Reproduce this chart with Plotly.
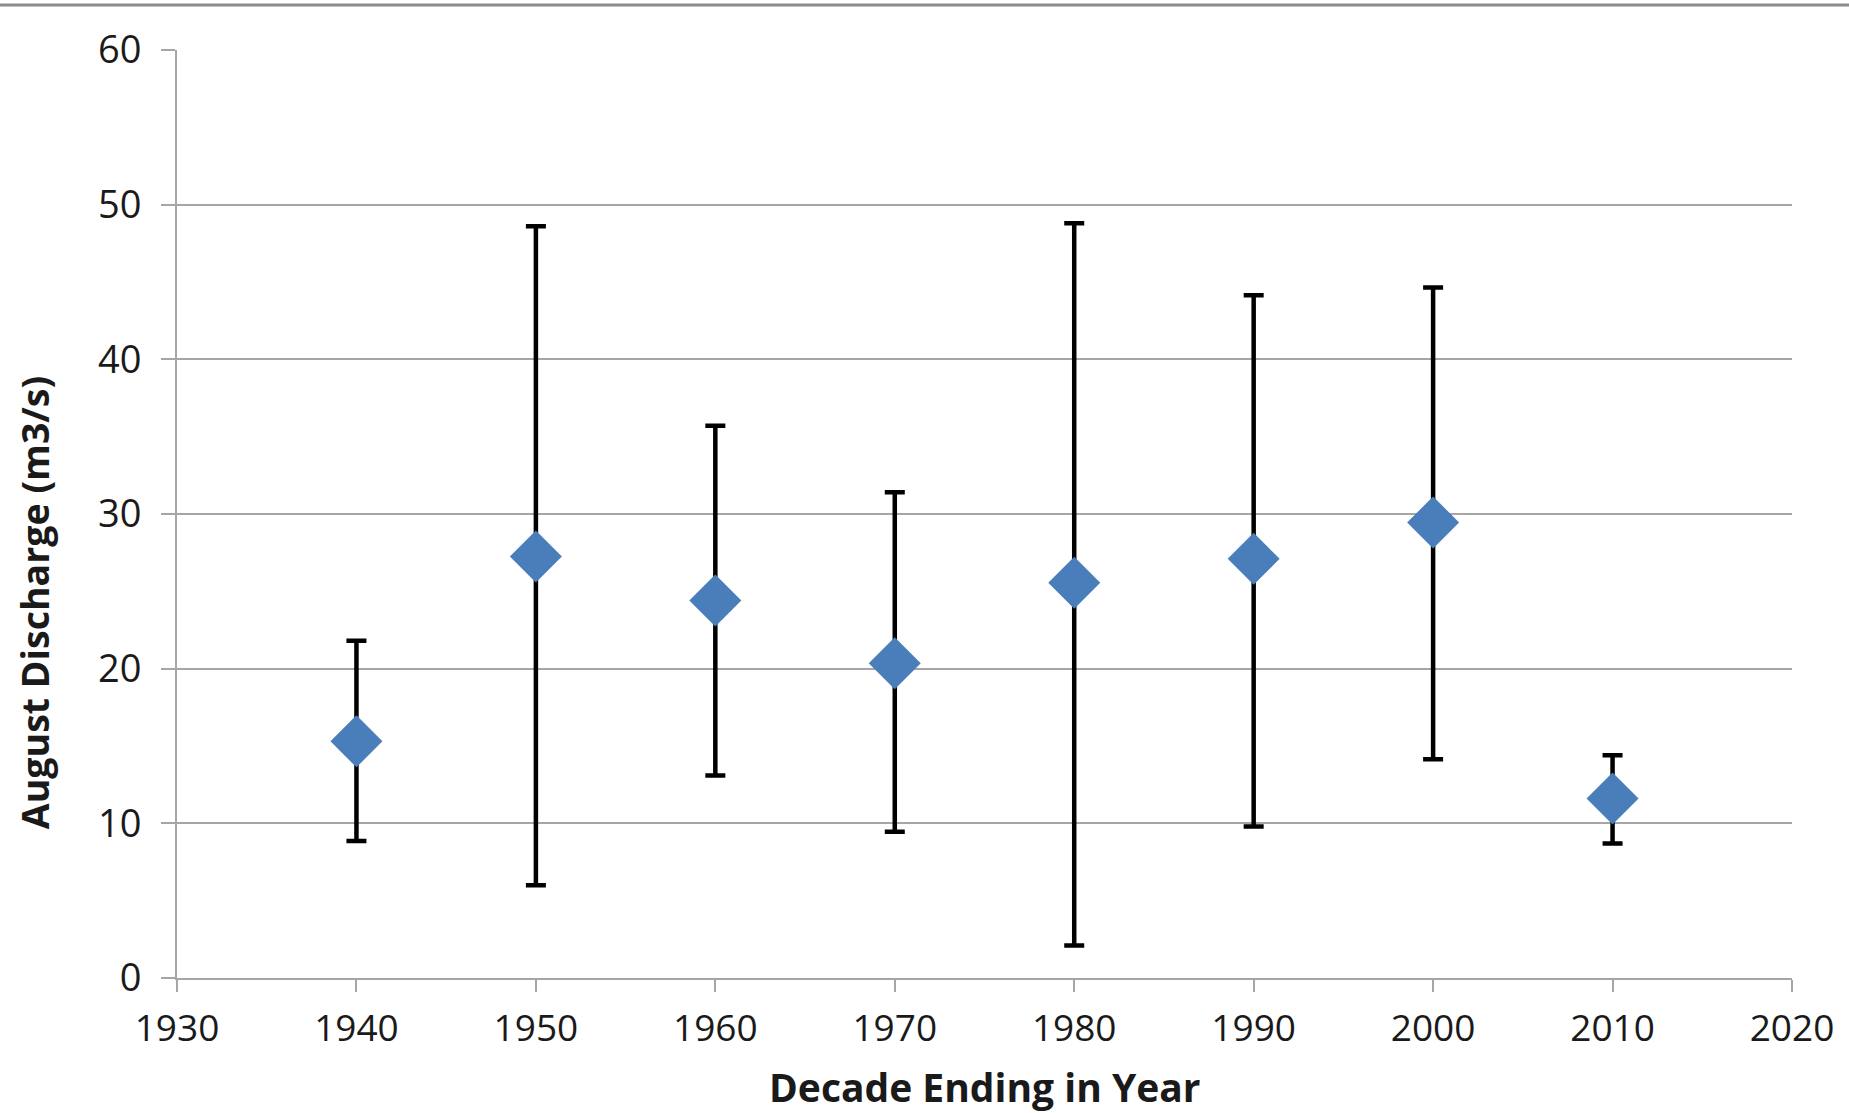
import plotly.graph_objects as go

decades = [1940, 1950, 1960, 1970, 1980, 1990, 2000, 2010]
mean_discharge = [15.3, 27.25, 24.4, 20.35, 25.55, 27.1, 29.45, 11.6]
max_discharge = [21.8, 48.6, 35.7, 31.4, 48.8, 44.15, 44.65, 14.4]
min_discharge = [8.85, 6.0, 13.1, 9.45, 2.1, 9.8, 14.15, 8.7]
x_ticks = [1930, 1940, 1950, 1960, 1970, 1980, 1990, 2000, 2010, 2020]
y_ticks = [0, 10, 20, 30, 40, 50, 60]

err_plus = [hi - m for hi, m in zip(max_discharge, mean_discharge)]
err_minus = [m - lo for lo, m in zip(min_discharge, mean_discharge)]

FONT = "Open Sans"
TXT = "#1a1a1a"

fig = go.Figure()
fig.add_trace(go.Scatter(
    x=decades, y=mean_discharge, mode="markers",
    marker=dict(symbol="diamond", size=40, color="#4a7ebb", line=dict(width=0)),
    error_y=dict(type="data", symmetric=False, array=err_plus, arrayminus=err_minus,
                 color="black", thickness=4.5, width=10),
    showlegend=False,
))

fig.update_layout(
    width=1849, height=1113,
    margin=dict(l=177, r=57, t=50, b=135),
    paper_bgcolor="white", plot_bgcolor="white",
    font=dict(family=FONT, size=36, color=TXT),
    xaxis=dict(
        range=[1930, 2020], tickmode="array", tickvals=x_ticks,
        showgrid=False, zeroline=False, showline=True, linecolor="#a6a6a6", linewidth=2,
        ticks="outside", ticklen=12, tickcolor="#a6a6a6", tickwidth=2,
        tickfont=dict(family=FONT, size=37, color=TXT),
        ticklabelstandoff=5,
    ),
    yaxis=dict(
        range=[0, 60], tickmode="array", tickvals=y_ticks,
        showgrid=True, gridcolor="#a6a6a6", gridwidth=2, zeroline=False,
        showline=True, linecolor="#a6a6a6", linewidth=2,
        ticks="outside", ticklen=14, tickcolor="#a6a6a6", tickwidth=2,
        tickfont=dict(family=FONT, size=38, color=TXT),
        ticklabelstandoff=12,
    ),
    annotations=[
        dict(text="<b>Decade Ending in Year</b>", xref="paper", yref="paper",
             x=0.5003, y=-0.1165, xanchor="center", yanchor="middle", showarrow=False,
             font=dict(family=FONT, size=39, color=TXT)),
        dict(text="<b>August Discharge (m3/s)</b>", xref="paper", yref="paper",
             x=-0.0885, y=0.404, xanchor="center", yanchor="middle", showarrow=False,
             textangle=-90, font=dict(family=FONT, size=37.5, color=TXT)),
    ],
    shapes=[dict(type="line", xref="paper", yref="paper", x0=-0.12, x1=1.05, y0=1.0485, y1=1.0485,
                 line=dict(color="#8c8c8c", width=3))],
)

fig.write_html("out.html")
